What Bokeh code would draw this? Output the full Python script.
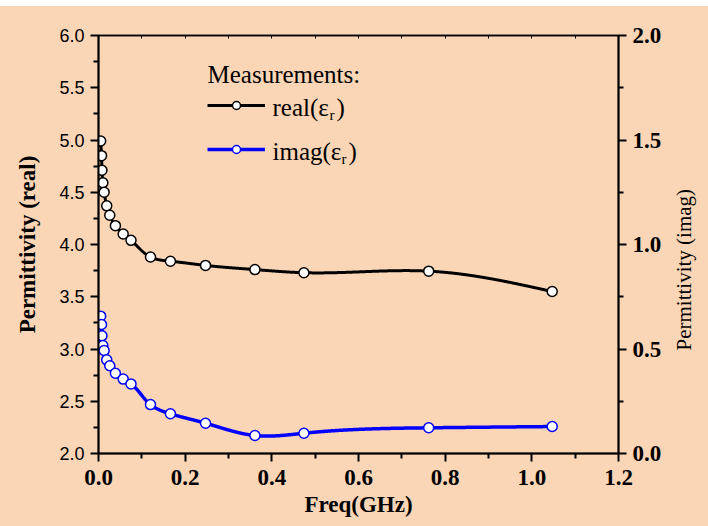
import math
import numpy as np
from bokeh.plotting import figure
from bokeh.models import (Range1d, LinearAxis, FixedTicker, NumeralTickFormatter,
                          Legend, LegendItem, Label, Spacer)
from bokeh.layouts import column, row
from bokeh.embed import file_html
from bokeh.resources import INLINE

# Measured permittivity versus frequency
freq_ghz = [0.005, 0.007, 0.008, 0.010, 0.013, 0.019, 0.026, 0.039, 0.057, 0.075,
            0.120, 0.166, 0.247, 0.361, 0.474, 0.762, 1.047]
eps_real = [4.99, 4.85, 4.71, 4.59, 4.50, 4.37, 4.28, 4.18, 4.10, 4.04,
            3.88, 3.84, 3.80, 3.76, 3.73, 3.745, 3.55]
eps_imag = [0.657, 0.617, 0.563, 0.517, 0.493, 0.448, 0.420, 0.384, 0.356, 0.333,
            0.234, 0.190, 0.145, 0.086, 0.097, 0.123, 0.129]

x_ticks = [0.0, 0.2, 0.4, 0.6, 0.8, 1.0, 1.2]
real_ticks = [2.0, 2.5, 3.0, 3.5, 4.0, 4.5, 5.0, 5.5, 6.0]
imag_ticks = [0.0, 0.5, 1.0, 1.5, 2.0]

PEACH = "#FBD6B6"
SERIF = "Liberation Serif"
FRAME_W, FRAME_H = 520, 418
FIG_H = 520


def midpoints(ticks):
    return [(a + b) / 2 for a, b in zip(ticks[:-1], ticks[1:])]


def natural_spline(t, v, tt):
    """Natural cubic spline through (t, v), evaluated at tt."""
    t = np.asarray(t, float)
    v = np.asarray(v, float)
    n = len(t)
    h = np.diff(t)
    A = np.zeros((n, n))
    r = np.zeros(n)
    A[0, 0] = A[-1, -1] = 1.0
    for i in range(1, n - 1):
        A[i, i - 1] = h[i - 1]
        A[i, i] = 2 * (h[i - 1] + h[i])
        A[i, i + 1] = h[i]
        r[i] = 6 * ((v[i + 1] - v[i]) / h[i] - (v[i] - v[i - 1]) / h[i - 1])
    M = np.linalg.solve(A, r)
    idx = np.clip(np.searchsorted(t, tt) - 1, 0, n - 2)
    t0, t1, hh = t[idx], t[idx + 1], h[idx]
    return (M[idx] * (t1 - tt) ** 3 / (6 * hh) + M[idx + 1] * (tt - t0) ** 3 / (6 * hh)
            + (v[idx] / hh - M[idx] * hh / 6) * (t1 - tt)
            + (v[idx + 1] / hh - M[idx + 1] * hh / 6) * (tt - t0))


def smooth_curve(xs, ys, xspan, yspan):
    """Parametric spline (chord-length) in screen-proportional space."""
    px = np.asarray(xs) * FRAME_W / xspan
    py = np.asarray(ys) * FRAME_H / yspan
    seg = np.hypot(np.diff(px), np.diff(py))
    t = np.concatenate([[0], np.cumsum(seg)])
    tt = np.linspace(0, t[-1], 1200)
    sx = natural_spline(t, px, tt) * xspan / FRAME_W
    sy = natural_spline(t, py, tt) * yspan / FRAME_H
    return sx, sy


p = figure(frame_width=FRAME_W, frame_height=FRAME_H,
           x_range=Range1d(0, 1.2), y_range=Range1d(2.0, 6.0),
           output_backend="svg", toolbar_location=None,
           min_border_left=98, min_border_right=52, min_border_top=29,
           min_border_bottom=FIG_H - FRAME_H - 29,
           background_fill_color=PEACH, border_fill_color=PEACH,
           outline_line_color="black", outline_line_width=1.5)
p.extra_y_ranges = {"imag": Range1d(0.0, 2.0)}
p.xgrid.grid_line_color = None
p.ygrid.grid_line_color = None

# curves + markers
rx, ry = smooth_curve(freq_ghz, eps_real, 1.2, 4.0)
real_line = p.line(rx, ry, line_color="black", line_width=3)
real_pts = p.scatter(freq_ghz, eps_real, size=10, fill_color="white",
                     line_color="black", line_width=1.5)

ix, iy = smooth_curve(freq_ghz, eps_imag, 1.2, 2.0)
imag_line = p.line(ix, iy, line_color="#0000FF", line_width=3.5, y_range_name="imag")
imag_pts = p.scatter(freq_ghz, eps_imag, size=10, fill_color="white",
                     line_color="#0000FF", line_width=1.5, y_range_name="imag")


def style_axis(ax):
    ax.axis_line_color = "black"
    ax.axis_line_width = 2
    ax.major_tick_line_color = "black"
    ax.major_tick_line_width = 2
    ax.minor_tick_line_color = "black"
    ax.minor_tick_line_width = 2
    ax.major_tick_in = 0
    ax.major_tick_out = 8
    ax.minor_tick_in = 0
    ax.minor_tick_out = 5


# left axis (real part)
ly = p.yaxis[0]
ly.ticker = FixedTicker(ticks=real_ticks, minor_ticks=midpoints(real_ticks))
ly.formatter = NumeralTickFormatter(format="0.0")
style_axis(ly)
ly.major_label_text_font = "Liberation Sans"
ly.major_label_text_font_size = "18px"
ly.major_label_text_color = "black"
ly.major_label_standoff = 6
ly.axis_label = "Permittivity (real)"
ly.axis_label_text_font = SERIF
ly.axis_label_text_font_style = "bold"
ly.axis_label_text_font_size = "23px"
ly.axis_label_text_color = "black"
ly.axis_label_standoff = 16

# bottom axis
bx = p.xaxis[0]
bx.ticker = FixedTicker(ticks=x_ticks, minor_ticks=midpoints(x_ticks))
bx.formatter = NumeralTickFormatter(format="0.0")
style_axis(bx)
bx.major_label_text_font = SERIF
bx.major_label_text_font_style = "bold"
bx.major_label_text_font_size = "23px"
bx.major_label_text_color = "black"
bx.major_label_standoff = 8
bx.axis_label = "Freq(GHz)"
bx.axis_label_text_font = SERIF
bx.axis_label_text_font_style = "bold"
bx.axis_label_text_font_size = "23px"
bx.axis_label_text_color = "black"
bx.axis_label_standoff = 4

# right axis (imaginary part)
ry_ax = LinearAxis(y_range_name="imag",
                   ticker=FixedTicker(ticks=imag_ticks, minor_ticks=midpoints(imag_ticks)),
                   formatter=NumeralTickFormatter(format="0.0"))
style_axis(ry_ax)
ry_ax.major_label_text_font = SERIF
ry_ax.major_label_text_font_style = "bold"
ry_ax.major_label_text_font_size = "23px"
ry_ax.major_label_text_color = "black"
ry_ax.major_label_standoff = 6
p.add_layout(ry_ax, "right")

# top axis: small inward ticks only
top_ticks = [round(0.1 * k, 1) for k in range(13)]
tx = LinearAxis(ticker=FixedTicker(ticks=top_ticks))
tx.axis_line_color = "black"
tx.axis_line_width = 1.5
tx.major_tick_line_color = "black"
tx.major_tick_in = 3
tx.major_tick_out = 0
tx.minor_tick_line_color = None
tx.major_label_text_color = None
tx.major_label_text_font_size = "1px"
p.add_layout(tx, "above")

# legend samples (line + marker); text drawn as labels so the subscript works
legend = Legend(items=[LegendItem(label=" ", renderers=[real_line, real_pts]),
                       LegendItem(label=" ", renderers=[imag_line, imag_pts])],
                location=(109, 294), orientation="vertical",
                glyph_width=58, glyph_height=20, label_height=20, label_width=1,
                label_text_font_size="10px", label_standoff=0,
                spacing=24, padding=0, margin=0,
                border_line_color=None, background_fill_alpha=0)
p.add_layout(legend)

LEG_SIZE = "25px"
p.add_layout(Label(x=109, y=379, x_units="screen", y_units="screen", text="Measurements:",
                   text_font=SERIF, text_font_size=LEG_SIZE, text_baseline="alphabetic",
                   text_color="black"))
for base_y, name, ex, sub_x, par_x in [(346, "real(ε", 174, 231, 238),
                                       (302, "imag(ε", 174, 243, 250)]:
    p.add_layout(Label(x=ex, y=base_y, x_units="screen", y_units="screen", text=name,
                       text_font=SERIF, text_font_size=LEG_SIZE, text_baseline="alphabetic",
                       text_color="black"))
    p.add_layout(Label(x=sub_x, y=base_y - 7, x_units="screen", y_units="screen", text="r",
                       text_font=SERIF, text_font_size="15px", text_baseline="alphabetic",
                       text_color="black"))
    p.add_layout(Label(x=par_x, y=base_y, x_units="screen", y_units="screen", text=")",
                       text_font=SERIF, text_font_size=LEG_SIZE, text_baseline="alphabetic",
                       text_color="black"))

# narrow strip on the right carrying the rotated title of the imaginary axis
strip = figure(width=38, height=FIG_H, x_range=Range1d(0, 1), y_range=Range1d(0, 1),
               output_backend="svg", toolbar_location=None, min_border=0,
               x_axis_type=None, y_axis_type=None,
               background_fill_color=PEACH, border_fill_color=PEACH,
               outline_line_color=None)
strip.grid.visible = False
strip.add_layout(Label(x=13, y=103, x_units="screen", y_units="screen",
                       text="Permittivity (imag)", angle=math.pi / 2,
                       text_align="left", text_baseline="middle",
                       text_font=SERIF, text_font_size="21px", text_color="black"))

body = row(p, strip, spacing=0, styles={"background-color": PEACH})
page = column(Spacer(width=708, height=6), body, spacing=0)

open("out.html", "w").write(file_html(page, INLINE))
